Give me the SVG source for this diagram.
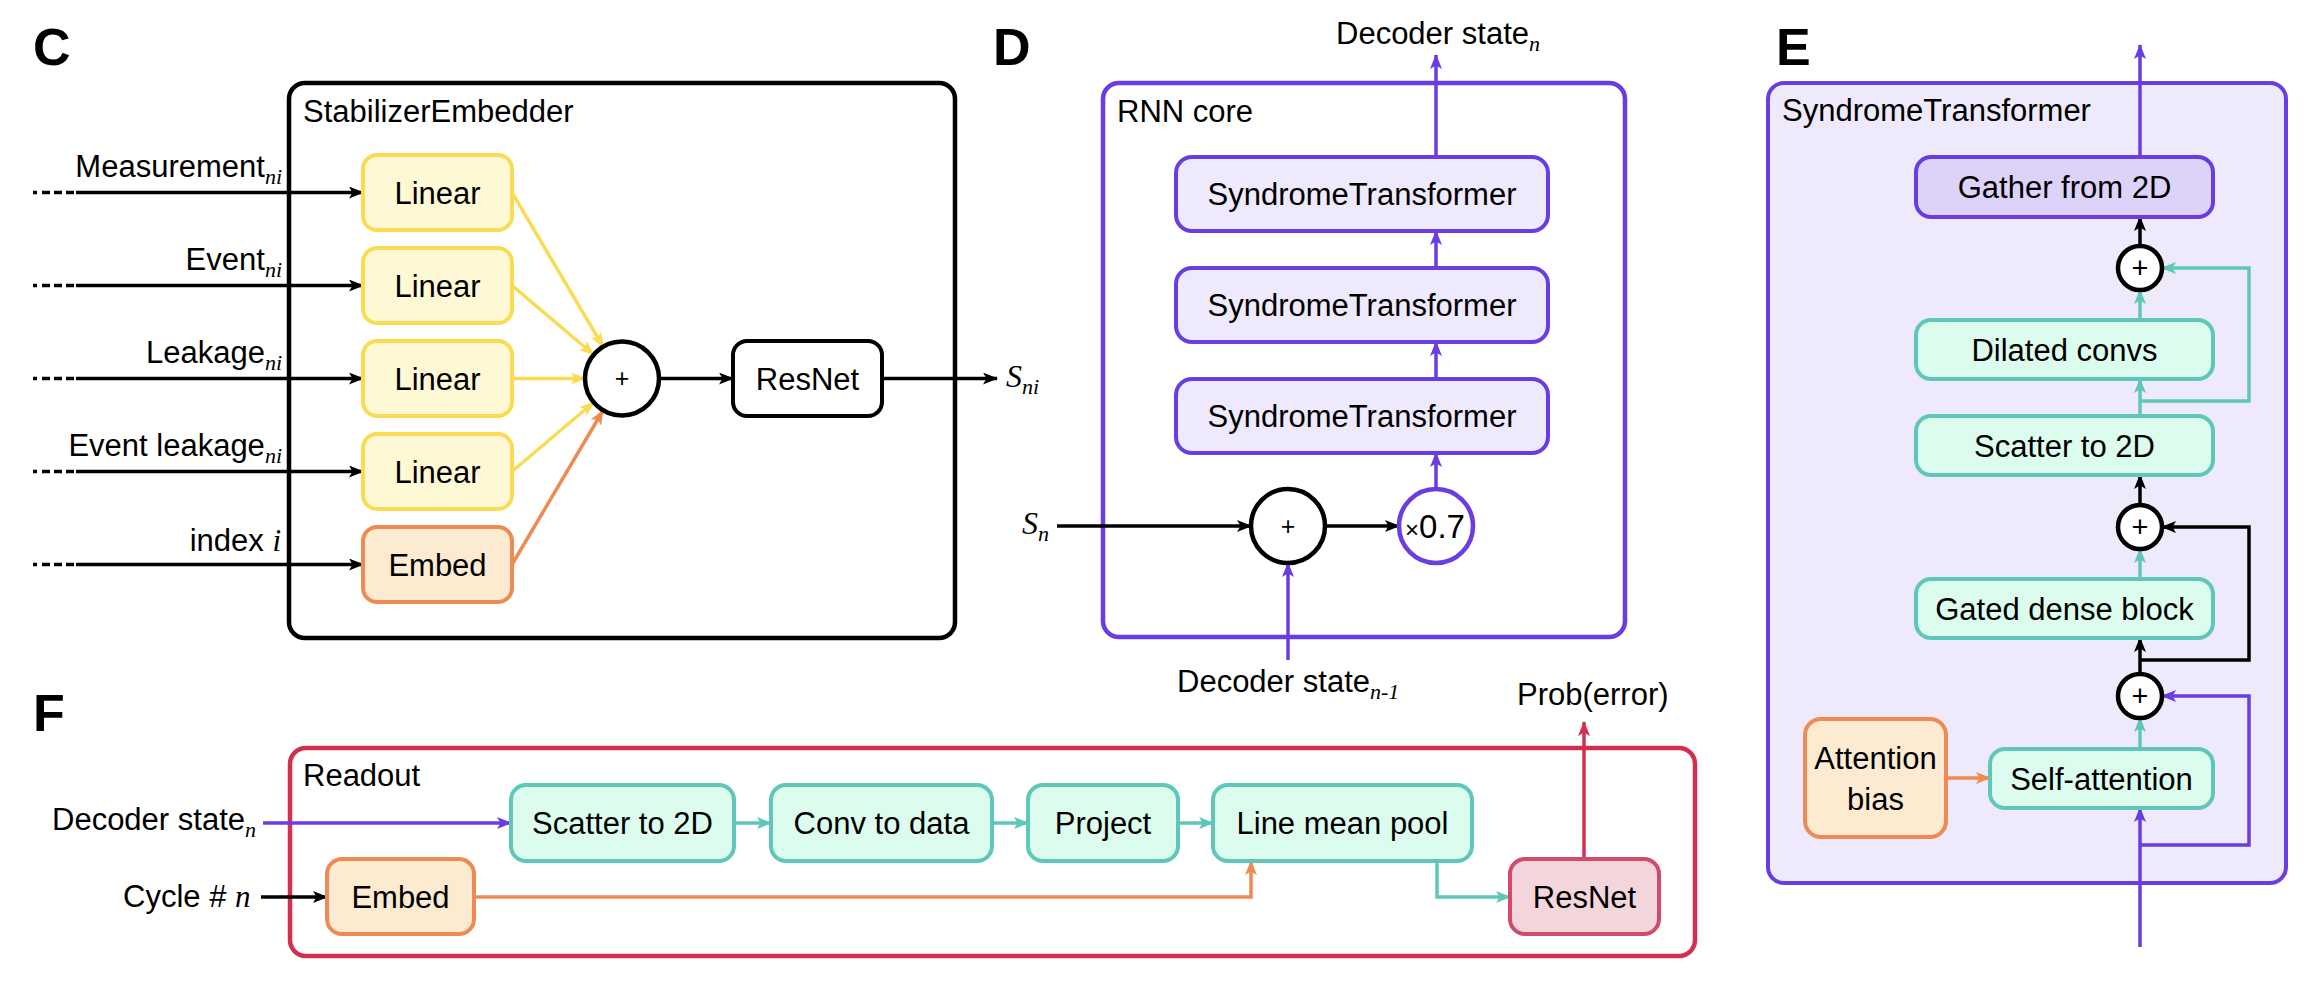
<svg xmlns="http://www.w3.org/2000/svg" width="2322" height="994" viewBox="0 0 2322 994">
<defs>
<style>
text{font-family:"Liberation Sans",Arial,sans-serif;font-size:31px;fill:#000}
.c{text-anchor:middle}
.e{text-anchor:end}
.sub{font-family:"Liberation Serif","Times New Roman",serif;font-style:italic;font-size:22px}
.it{font-family:"Liberation Serif","Times New Roman",serif;font-style:italic}
.panel{font-weight:bold;font-size:52px}
.frame{fill:#fff;stroke-width:4.5}
.node{stroke-width:4}
.yel{fill:#FEF9D4;stroke:#F9DC52}
.org{fill:#FCEBD1;stroke:#F08A55}
.tea{fill:#DCFCEE;stroke:#5FC7B9}
.pur{fill:#EEE9FC;stroke:#6A3DE2}
.gat{fill:#DCD2FA;stroke:#6A3DE2}
.pnk{fill:#F3D5DC;stroke:#D24B6A}
.wht{fill:#fff;stroke:#000}
.circ{stroke-width:4.5}
.k{stroke:#000;fill:none;stroke-width:3.5}
.ky{stroke:#F9DC52;fill:none;stroke-width:3.5}
.ko{stroke:#F08A55;fill:none;stroke-width:3.5}
.kt{stroke:#5FC7B9;fill:none;stroke-width:3.5}
.kp{stroke:#6A3DE2;fill:none;stroke-width:3.5}
.kr{stroke:#D3304F;fill:none;stroke-width:3.5}
.dots{stroke:#000;fill:none;stroke-width:3.5;stroke-dasharray:4 5 8 4 8 4 8 4}
</style>
<marker id="aK" markerUnits="userSpaceOnUse" markerWidth="15" markerHeight="12" refX="14" refY="6" orient="auto"><path d="M0,0 L15,6 L0,12 L3.5,6 z" fill="#000"/></marker>
<marker id="aY" markerUnits="userSpaceOnUse" markerWidth="15" markerHeight="12" refX="14" refY="6" orient="auto"><path d="M0,0 L15,6 L0,12 L3.5,6 z" fill="#F9DC52"/></marker>
<marker id="aO" markerUnits="userSpaceOnUse" markerWidth="15" markerHeight="12" refX="14" refY="6" orient="auto"><path d="M0,0 L15,6 L0,12 L3.5,6 z" fill="#F08A55"/></marker>
<marker id="aT" markerUnits="userSpaceOnUse" markerWidth="15" markerHeight="12" refX="14" refY="6" orient="auto"><path d="M0,0 L15,6 L0,12 L3.5,6 z" fill="#5FC7B9"/></marker>
<marker id="aP" markerUnits="userSpaceOnUse" markerWidth="15" markerHeight="12" refX="14" refY="6" orient="auto"><path d="M0,0 L15,6 L0,12 L3.5,6 z" fill="#6A3DE2"/></marker>
<marker id="aR" markerUnits="userSpaceOnUse" markerWidth="15" markerHeight="12" refX="14" refY="6" orient="auto"><path d="M0,0 L15,6 L0,12 L3.5,6 z" fill="#D3304F"/></marker>
</defs>
<rect width="2322" height="994" fill="#fff"/>

<!-- Panel letters -->
<text class="panel" x="33" y="65">C</text>
<text class="panel" x="993" y="65">D</text>
<text class="panel" x="1776" y="65">E</text>
<text class="panel" x="33" y="731">F</text>

<!-- Frames -->
<g id="stabilizer-embedder">
<rect class="frame" x="289" y="83" width="666" height="555" rx="16" stroke="#000"/>
<text x="303" y="122">StabilizerEmbedder</text>
</g>
<g id="rnn-core">
<rect class="frame" x="1103" y="83" width="522" height="554" rx="16" stroke="#6A3DE2" stroke-width="4"/>
<text x="1117" y="122">RNN core</text>
</g>
<g id="syndrome-transformer-frame">
<rect x="1768" y="83" width="518" height="800" rx="16" fill="#EEEAFC" stroke="#6A3DE2" stroke-width="4"/>
<text x="1782" y="121">SyndromeTransformer</text>
</g>
<g id="readout">
<rect class="frame" x="290" y="748" width="1405" height="208" rx="16" stroke="#D3304F" stroke-width="4"/>
<text x="303" y="786">Readout</text>
</g>

<!-- Connectors -->
<g id="connectors">
<!-- C inputs -->
<path class="dots" d="M33,192.5 H76 M33,285.5 H76 M33,378.5 H76 M33,471.5 H76 M33,564.5 H76"/>
<path class="k" d="M76,192.5 H363" marker-end="url(#aK)"/>
<path class="k" d="M76,285.5 H363" marker-end="url(#aK)"/>
<path class="k" d="M76,378.5 H363" marker-end="url(#aK)"/>
<path class="k" d="M76,471.5 H363" marker-end="url(#aK)"/>
<path class="k" d="M76,564.5 H363" marker-end="url(#aK)"/>
<path class="ky" d="M512,192.5 L603,346.5" marker-end="url(#aY)"/>
<path class="ky" d="M512,285.5 L593.5,354.5" marker-end="url(#aY)"/>
<path class="ky" d="M512,378.5 H585" marker-end="url(#aY)"/>
<path class="ky" d="M512,471.5 L593.5,402.5" marker-end="url(#aY)"/>
<path class="ko" d="M512,564.5 L603,410.5" marker-end="url(#aO)"/>
<path class="k" d="M659,378.5 H733" marker-end="url(#aK)"/>
<path class="k" d="M882,378.5 H997" marker-end="url(#aK)"/>
<!-- D -->
<path class="k" d="M1057,526 H1251" marker-end="url(#aK)"/>
<path class="k" d="M1325,526 H1399" marker-end="url(#aK)"/>
<path class="kp" d="M1288,660 V563" marker-end="url(#aP)"/>
<path class="kp" d="M1436,489 V453" marker-end="url(#aP)"/>
<path class="kp" d="M1436,379 V342" marker-end="url(#aP)"/>
<path class="kp" d="M1436,268 V231" marker-end="url(#aP)"/>
<path class="kp" d="M1436,157 V55" marker-end="url(#aP)"/>
<!-- E -->
<path class="kp" d="M2140,947 V808" marker-end="url(#aP)"/>
<path class="kp" d="M2140,845 H2249 V696 H2162" marker-end="url(#aP)"/>
<path class="ko" d="M1946,778 H1990" marker-end="url(#aO)"/>
<path class="kt" d="M2140,749 V718" marker-end="url(#aT)"/>
<path class="k" d="M2140,674 V638" marker-end="url(#aK)"/>
<path class="k" d="M2140,660 H2249 V527 H2162" marker-end="url(#aK)"/>
<path class="kt" d="M2140,579 V549" marker-end="url(#aT)"/>
<path class="k" d="M2140,505 V475" marker-end="url(#aK)"/>
<path class="kt" d="M2140,416 V379" marker-end="url(#aT)"/>
<path class="kt" d="M2140,401 H2249 V268 H2162" marker-end="url(#aT)"/>
<path class="kt" d="M2140,320 V290" marker-end="url(#aT)"/>
<path class="k" d="M2140,246 V217" marker-end="url(#aK)"/>
<path class="kp" d="M2140,157 V45" marker-end="url(#aP)"/>
<!-- F -->
<path class="kp" d="M263,823 H511" marker-end="url(#aP)"/>
<path class="k" d="M261,897 H327" marker-end="url(#aK)"/>
<path class="kt" d="M734,823 H771" marker-end="url(#aT)"/>
<path class="kt" d="M992,823 H1028" marker-end="url(#aT)"/>
<path class="kt" d="M1178,823 H1213" marker-end="url(#aT)"/>
<path class="ko" d="M474,897 H1251 V861" marker-end="url(#aO)"/>
<path class="kt" d="M1437,861 V897 H1510" marker-end="url(#aT)"/>
<path class="kr" d="M1584,859 V722" marker-end="url(#aR)"/>
</g>

<!-- C labels -->
<g id="c-inputs">
<text class="e" x="282" y="177">Measurement<tspan class="sub" dy="7">ni</tspan></text>
<text class="e" x="282" y="270">Event<tspan class="sub" dy="7">ni</tspan></text>
<text class="e" x="282" y="363">Leakage<tspan class="sub" dy="7">ni</tspan></text>
<text class="e" x="282" y="456">Event leakage<tspan class="sub" dy="7">ni</tspan></text>
<text class="e" x="281" y="551">index <tspan class="it">i</tspan></text>
</g>

<!-- C nodes -->
<g id="linear-1"><rect class="node yel" x="363" y="155" width="149" height="75" rx="14"/><text class="c" x="437.5" y="203.5">Linear</text></g>
<g id="linear-2"><rect class="node yel" x="363" y="248" width="149" height="75" rx="14"/><text class="c" x="437.5" y="296.5">Linear</text></g>
<g id="linear-3"><rect class="node yel" x="363" y="341" width="149" height="75" rx="14"/><text class="c" x="437.5" y="389.5">Linear</text></g>
<g id="linear-4"><rect class="node yel" x="363" y="434" width="149" height="75" rx="14"/><text class="c" x="437.5" y="482.5">Linear</text></g>
<g id="embed-c"><rect class="node org" x="363" y="527" width="149" height="75" rx="14"/><text class="c" x="437.5" y="575.5">Embed</text></g>
<g id="sum-c"><circle class="wht circ" cx="622" cy="378.5" r="37"/><text class="c" x="622" y="387" style="font-size:25px">+</text></g>
<g id="resnet-c"><rect class="node wht" x="733" y="341" width="149" height="75" rx="14"/><text class="c" x="807.5" y="389.5">ResNet</text></g>
<g id="s-ni"><text class="it" x="1006" y="387" style="font-size:32px">S<tspan class="sub" dy="7">ni</tspan></text></g>

<!-- D nodes -->
<g id="st-1"><rect class="node pur" x="1176" y="157" width="372" height="74" rx="16"/><text class="c" x="1362" y="205">SyndromeTransformer</text></g>
<g id="st-2"><rect class="node pur" x="1176" y="268" width="372" height="74" rx="16"/><text class="c" x="1362" y="316">SyndromeTransformer</text></g>
<g id="st-3"><rect class="node pur" x="1176" y="379" width="372" height="74" rx="16"/><text class="c" x="1362" y="427">SyndromeTransformer</text></g>
<g id="sum-d"><circle class="wht circ" cx="1288" cy="526" r="37"/><text class="c" x="1288" y="534.5" style="font-size:25px">+</text></g>
<g id="scale-d"><circle cx="1436" cy="526" r="37" fill="#fff" stroke="#6A3DE2" stroke-width="4.5"/><text class="c" x="1435" y="538" style="font-size:33px"><tspan style="font-size:24px">×</tspan>0.7</text></g>
<g id="d-labels">
<text x="1336" y="44">Decoder state<tspan class="sub" dy="7">n</tspan></text>
<text class="it" x="1022" y="534" style="font-size:32px">S<tspan class="sub" dy="7">n</tspan></text>
<text x="1177" y="692">Decoder state<tspan class="sub" dy="7">n-1</tspan></text>
</g>

<!-- E nodes -->
<g id="gather"><rect class="node gat" x="1916" y="157" width="297" height="60" rx="15"/><text class="c" x="2064.5" y="198">Gather from 2D</text></g>
<g id="sum-e1"><circle class="wht circ" cx="2140" cy="268" r="22"/><text class="c" x="2140" y="278" style="font-size:29px">+</text></g>
<g id="dilated"><rect class="node tea" x="1916" y="320" width="297" height="59" rx="15"/><text class="c" x="2064.5" y="360.5">Dilated convs</text></g>
<g id="scatter-e"><rect class="node tea" x="1916" y="416" width="297" height="59" rx="15"/><text class="c" x="2064.5" y="456.5">Scatter to 2D</text></g>
<g id="sum-e2"><circle class="wht circ" cx="2140" cy="527" r="22"/><text class="c" x="2140" y="537" style="font-size:29px">+</text></g>
<g id="gated"><rect class="node tea" x="1916" y="579" width="297" height="59" rx="15"/><text class="c" x="2064.5" y="619.5">Gated dense block</text></g>
<g id="sum-e3"><circle class="wht circ" cx="2140" cy="696" r="22"/><text class="c" x="2140" y="706" style="font-size:29px">+</text></g>
<g id="self-attention"><rect class="node tea" x="1990" y="749" width="223" height="59" rx="15"/><text class="c" x="2101.5" y="789.5">Self-attention</text></g>
<g id="attention-bias"><rect class="node org" x="1805" y="719" width="141" height="118" rx="16"/><text class="c" x="1875.5" y="769">Attention</text><text class="c" x="1875.5" y="810">bias</text></g>

<!-- F nodes -->
<g id="f-labels">
<text x="52" y="830">Decoder state<tspan class="sub" dy="7">n</tspan></text>
<text x="123" y="907">Cycle # <tspan class="it">n</tspan></text>
<text x="1517" y="705">Prob(error)</text>
</g>
<g id="scatter-f"><rect class="node tea" x="511" y="785" width="223" height="76" rx="15"/><text class="c" x="622.5" y="834">Scatter to 2D</text></g>
<g id="conv-f"><rect class="node tea" x="771" y="785" width="221" height="76" rx="15"/><text class="c" x="881.5" y="834">Conv to data</text></g>
<g id="project-f"><rect class="node tea" x="1028" y="785" width="150" height="76" rx="15"/><text class="c" x="1103" y="834">Project</text></g>
<g id="pool-f"><rect class="node tea" x="1213" y="785" width="259" height="76" rx="15"/><text class="c" x="1342.5" y="834">Line mean pool</text></g>
<g id="embed-f"><rect class="node org" x="327" y="859" width="147" height="75" rx="15"/><text class="c" x="400.5" y="907.5">Embed</text></g>
<g id="resnet-f"><rect class="node pnk" x="1510" y="859" width="149" height="75" rx="15"/><text class="c" x="1584.5" y="907.5">ResNet</text></g>
</svg>
